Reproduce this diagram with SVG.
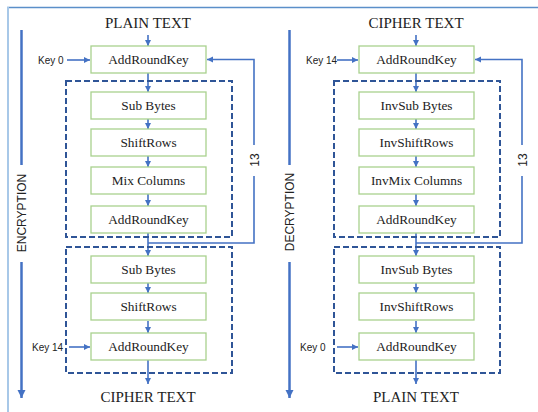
<svg xmlns="http://www.w3.org/2000/svg" width="538" height="412" viewBox="0 0 538 412">
<style>
.box{fill:#fff;stroke:#a9d18e;stroke-width:1.3}
.lbl{font-family:"Liberation Serif","Times New Roman",serif;font-size:13.3px;fill:#222;text-anchor:middle}
.ttl{font-family:"Liberation Serif","Times New Roman",serif;font-size:15px;fill:#222;text-anchor:middle}
.sans{font-family:"Liberation Sans",Arial,sans-serif;fill:#222}
.dash{fill:none;stroke:#2f5597;stroke-width:2;stroke-dasharray:6,3}
.ln{fill:none;stroke:#4472c4;stroke-width:1.6}
.thick{fill:none;stroke:#4472c4;stroke-width:2.5}
</style>
<defs>
<marker id="ah" markerUnits="userSpaceOnUse" markerWidth="7" markerHeight="7" refX="6" refY="3" orient="auto"><path d="M0,0 L6,3 L0,6 z" fill="#4472c4"/></marker>
<marker id="ahb" markerUnits="userSpaceOnUse" markerWidth="9" markerHeight="9" refX="8" refY="4" orient="auto"><path d="M0,0 L8,4 L0,8 z" fill="#4472c4"/></marker>
</defs>
<line x1="7" y1="7.5" x2="538" y2="7.5" stroke="#5b8fc9" stroke-width="1.5"/>
<line x1="8" y1="7" x2="8" y2="412" stroke="#a8c8e8" stroke-width="2"/>

<g id="connectors">
<!-- left -->
<path class="thick" d="M21.5,30 V165"/>
<path class="thick" d="M21.5,262 V398" marker-end="url(#ahb)"/>
<path class="ln" d="M148,35 V46" marker-end="url(#ah)"/>
<path class="ln" d="M148,73 V92" marker-end="url(#ah)"/>
<path class="ln" d="M148,119 V129" marker-end="url(#ah)"/>
<path class="ln" d="M148,156 V167" marker-end="url(#ah)"/>
<path class="ln" d="M148,194 V206" marker-end="url(#ah)"/>
<path class="ln" d="M148,233 V256" marker-end="url(#ah)"/>
<path class="ln" d="M148,283 V293" marker-end="url(#ah)"/>
<path class="ln" d="M148,321 V333" marker-end="url(#ah)"/>
<path class="ln" d="M148,360 V384" marker-end="url(#ah)"/>
<path class="ln" d="M67,60 H90" marker-end="url(#ah)"/>
<path class="ln" d="M69,347 H90" marker-end="url(#ah)"/>
<path class="ln" d="M148,243 H254 V176" stroke-width="2"/>
<path class="ln" d="M254,145 V59.5 H207" stroke-width="2" marker-end="url(#ah)"/>
<!-- right -->
<path class="thick" d="M289.5,30 V165"/>
<path class="thick" d="M289.5,262 V398" marker-end="url(#ahb)"/>
<path class="ln" d="M416,35 V46" marker-end="url(#ah)"/>
<path class="ln" d="M416,73 V92" marker-end="url(#ah)"/>
<path class="ln" d="M416,119 V129" marker-end="url(#ah)"/>
<path class="ln" d="M416,156 V167" marker-end="url(#ah)"/>
<path class="ln" d="M416,194 V206" marker-end="url(#ah)"/>
<path class="ln" d="M416,233 V256" marker-end="url(#ah)"/>
<path class="ln" d="M416,283 V293" marker-end="url(#ah)"/>
<path class="ln" d="M416,321 V333" marker-end="url(#ah)"/>
<path class="ln" d="M416,360 V384" marker-end="url(#ah)"/>
<path class="ln" d="M337,60 H358" marker-end="url(#ah)"/>
<path class="ln" d="M337,347 H358" marker-end="url(#ah)"/>
<path class="ln" d="M416,243 H522 V176" stroke-width="2"/>
<path class="ln" d="M522,145 V59.5 H475" stroke-width="2" marker-end="url(#ah)"/>
</g>

<g id="enc-label"><text class="sans" font-size="12" text-anchor="middle" transform="translate(26,213) rotate(-90)">ENCRYPTION</text></g>
<g id="enc-13"><text class="sans" font-size="12" text-anchor="middle" transform="translate(258.5,160) rotate(-90)">13</text></g>
<g id="dec-label"><text class="sans" font-size="12" text-anchor="middle" transform="translate(294,212) rotate(-90)">DECRYPTION</text></g>
<g id="dec-13"><text class="sans" font-size="12" text-anchor="middle" transform="translate(526.5,160) rotate(-90)">13</text></g>

<g id="enc-round-group"><rect class="dash" x="66" y="81" width="166" height="156"/></g>
<g id="enc-final-group"><rect class="dash" x="66" y="247" width="166" height="126"/></g>
<g id="dec-round-group"><rect class="dash" x="334" y="81" width="166" height="156"/></g>
<g id="dec-final-group"><rect class="dash" x="334" y="247" width="166" height="126"/></g>

<g id="enc-in"><text class="ttl" x="148" y="28">PLAIN TEXT</text></g>
<g id="enc-key0"><text class="sans" font-size="10" x="38" y="63.5">Key 0</text></g>
<g id="enc-ark1"><rect class="box" x="91" y="46" width="115" height="27"/><text class="lbl" x="148.5" y="64">AddRoundKey</text></g>
<g id="enc-sb1"><rect class="box" x="91" y="92" width="115" height="27"/><text class="lbl" x="148.5" y="110">Sub Bytes</text></g>
<g id="enc-sr1"><rect class="box" x="91" y="129" width="115" height="27"/><text class="lbl" x="148.5" y="147">ShiftRows</text></g>
<g id="enc-mc1"><rect class="box" x="91" y="167" width="115" height="27"/><text class="lbl" x="148.5" y="185">Mix Columns</text></g>
<g id="enc-ark2"><rect class="box" x="91" y="206" width="115" height="27"/><text class="lbl" x="148.5" y="224">AddRoundKey</text></g>
<g id="enc-sb2"><rect class="box" x="91" y="256" width="115" height="27"/><text class="lbl" x="148.5" y="274">Sub Bytes</text></g>
<g id="enc-sr2"><rect class="box" x="91" y="293" width="115" height="27"/><text class="lbl" x="148.5" y="311">ShiftRows</text></g>
<g id="enc-key14"><text class="sans" font-size="10" x="32" y="350.5">Key 14</text></g>
<g id="enc-ark3"><rect class="box" x="91" y="333" width="115" height="27"/><text class="lbl" x="148.5" y="351">AddRoundKey</text></g>
<g id="enc-out"><text class="ttl" x="148" y="402">CIPHER TEXT</text></g>

<g id="dec-in"><text class="ttl" x="416" y="28">CIPHER TEXT</text></g>
<g id="dec-key14"><text class="sans" font-size="10" x="306" y="63.5">Key 14</text></g>
<g id="dec-ark1"><rect class="box" x="359" y="46" width="115" height="27"/><text class="lbl" x="416.5" y="64">AddRoundKey</text></g>
<g id="dec-isb1"><rect class="box" x="359" y="92" width="115" height="27"/><text class="lbl" x="416.5" y="110">InvSub Bytes</text></g>
<g id="dec-isr1"><rect class="box" x="359" y="129" width="115" height="27"/><text class="lbl" x="416.5" y="147">InvShiftRows</text></g>
<g id="dec-imc1"><rect class="box" x="359" y="167" width="115" height="27"/><text class="lbl" x="416.5" y="185">InvMix Columns</text></g>
<g id="dec-ark2"><rect class="box" x="359" y="206" width="115" height="27"/><text class="lbl" x="416.5" y="224">AddRoundKey</text></g>
<g id="dec-isb2"><rect class="box" x="359" y="256" width="115" height="27"/><text class="lbl" x="416.5" y="274">InvSub Bytes</text></g>
<g id="dec-isr2"><rect class="box" x="359" y="293" width="115" height="27"/><text class="lbl" x="416.5" y="311">InvShiftRows</text></g>
<g id="dec-key0"><text class="sans" font-size="10" x="300" y="350.5">Key 0</text></g>
<g id="dec-ark3"><rect class="box" x="359" y="333" width="115" height="27"/><text class="lbl" x="416.5" y="351">AddRoundKey</text></g>
<g id="dec-out"><text class="ttl" x="416" y="402">PLAIN TEXT</text></g>
</svg>
